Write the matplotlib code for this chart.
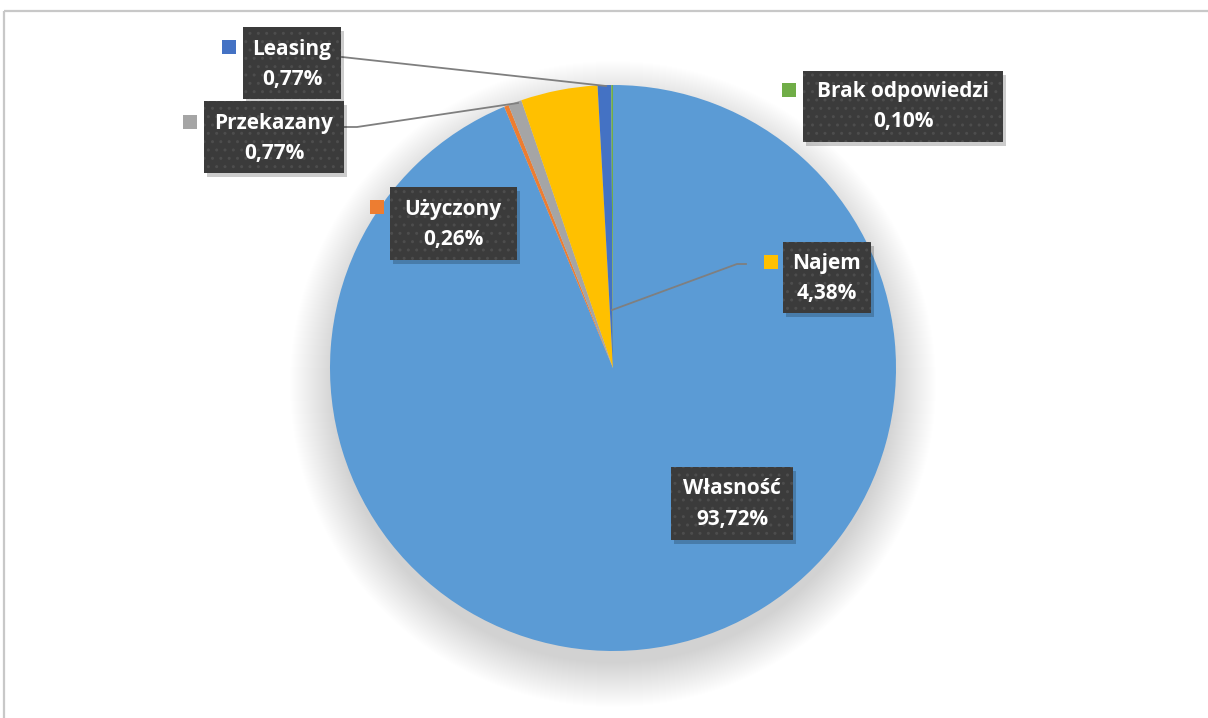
"""
Wykres kołowy: forma władania (udziały procentowe)
"""

import matplotlib.pyplot as plt
from matplotlib.patches import Rectangle, Circle

# ─────────────────────────────────────────────
# Dane
# ─────────────────────────────────────────────
kategorie = ['Własność', 'Użyczony', 'Przekazany', 'Najem', 'Leasing', 'Brak odpowiedzi']
udzialy = [93.72, 0.26, 0.77, 4.38, 0.77, 0.10]
kolory = ['#5B9BD5', '#ED7D31', '#A5A5A5', '#FFC000', '#4472C4', '#70AD47']

# ─────────────────────────────────────────────
# Układ (piksele obrazka 1208x718)
# ─────────────────────────────────────────────
W, H = 1208, 718
srodek = (613, 368)
promien = 283

# środek ramki etykiety, szerokość, wysokość
etykiety = {
    'Własność':        (732, 503, 122, 73),
    'Użyczony':        (453, 223, 127, 73),
    'Przekazany':      (274, 137, 140, 72),
    'Najem':           (827, 277, 88, 71),
    'Leasing':         (292, 63, 98, 72),
    'Brak odpowiedzi': (903, 106, 200, 71),
}
# kwadraciki z kolorem (bez etykiety Własność)
znaczniki = {
    'Użyczony':        (377, 207),
    'Przekazany':      (190, 122),
    'Najem':           (771, 262),
    'Leasing':         (229, 47),
    'Brak odpowiedzi': (789, 90),
}
linie = {
    'Leasing':    [(342, 57), (606, 86)],
    'Przekazany': [(343, 127), (357, 127), (518, 103)],
    'Najem':      [(612, 310), (737, 264), (746, 264)],
}

plt.rcParams['font.family'] = ['Open Sans', 'DejaVu Sans']

fig = plt.figure(figsize=(W/100, H/100), dpi=100)
ax = fig.add_axes([0, 0, 1, 1])

# ramka wykresu
ax.add_patch(Rectangle((4, 11), W + 20, H + 20, fill=False,
                       edgecolor='#c8c8c8', lw=1.6, zorder=0))

# miękki cień pod kołem
for i in range(45):
    ax.add_patch(Circle((srodek[0], srodek[1] + 16), promien + 40 - i,
                        color='black', alpha=0.0035, lw=0, zorder=1))

# koło (oś y odwrócona -> kąty lustrzane)
ax.pie(udzialy, colors=kolory, startangle=-90, counterclock=True,
       center=srodek, radius=promien, frame=True,
       wedgeprops=dict(linewidth=0, zorder=2))
ax.set_xlim(0, W)
ax.set_ylim(H, 0)
ax.set_aspect('equal')
ax.axis('off')

# linie odniesienia
for nazwa, pts in linie.items():
    xs, ys = zip(*pts)
    ax.plot(xs, ys, color='#7f7f7f', lw=1.3, zorder=3)

# etykiety danych
for nazwa, wart, kol in zip(kategorie, udzialy, kolory):
    cx, cy, w, h = etykiety[nazwa]
    ax.add_patch(Rectangle((cx - w/2 + 3, cy - h/2 + 4), w, h,
                           color='#000000', alpha=0.2, lw=0, zorder=4))
    ax.add_patch(Rectangle((cx - w/2, cy - h/2), w, h, facecolor='#3b3b3b',
                           edgecolor='#4d4d4d', hatch='..', lw=0, zorder=5))
    ax.text(cx, cy - 14, nazwa, color='white', fontsize=15, fontweight='bold',
            ha='center', va='center', zorder=6)
    ax.text(cx, cy + 16, f'{wart:.2f}'.replace('.', ',') + '%', color='white',
            fontsize=15, fontweight='bold', ha='center', va='center', zorder=6)
    if nazwa in znaczniki:
        mx, my = znaczniki[nazwa]
        ax.add_patch(Rectangle((mx - 7, my - 7), 14, 14, color=kol, lw=0, zorder=6))

plt.savefig('out.png', dpi=100)
